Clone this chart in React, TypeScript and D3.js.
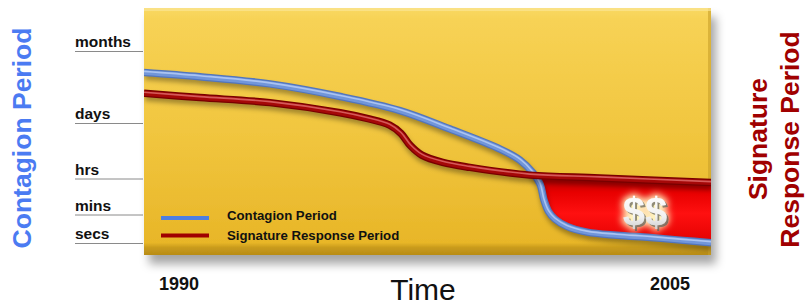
import React from 'react';
import * as d3 from 'd3';

// Levels: 0 = secs, 1 = mins, 2 = hrs, 3 = days, 4 = months
const levelLabels = ['secs', 'mins', 'hrs', 'days', 'months'];
const yearLabels = [1990, 2005];

// Contagion Period (blue)
const contagionYears = [1990, 1991.48, 1993.33, 1995.19, 1996.77, 1998.1, 1999.42, 1999.95, 2000.29, 2000.48, 2000.58, 2000.7, 2000.87, 2001.19, 2001.72, 2002.51, 2003.39, 2004.26, 2005];
const contagionLevels = [3.71, 3.65, 3.55, 3.375, 3.18, 2.9, 2.54, 2.34, 2.11, 1.85, 1.42, 1.1, 0.86, 0.6, 0.4, 0.29, 0.21, 0.11, 0.03];

// Signature Response Period (red)
const responseYears = [1990, 1991.48, 1993.33, 1995.19, 1995.9, 1996.5, 1996.8, 1997.05, 1997.35, 1997.9, 1998.62, 2000.21, 2002.06, 2005];
const responseLevels = [3.42, 3.36, 3.29, 3.15, 3.07, 2.97, 2.82, 2.6, 2.43, 2.3, 2.21, 2.07, 2.02, 1.9];

type Pt = { year: number; level: number };

export default function App() {
  const width = 805;
  const height = 305;

  const x = d3.scaleLinear().domain([1990, 2005]).range([144, 711]);
  const y = d3.scaleLinear().domain([0, 1, 2, 3, 4]).range([243.5, 215, 179, 123.5, 51.5]);

  const panelTop = 8;
  const panelBottom = 255;

  const blue: Pt[] = contagionYears.map((yr, i) => ({ year: yr, level: contagionLevels[i] }));
  const red: Pt[] = responseYears.map((yr, i) => ({ year: yr, level: responseLevels[i] }));

  const curve = d3.curveCatmullRom.alpha(0.5);
  const line = d3.line<Pt>().x(d => x(d.year)).y(d => y(d.level)).curve(curve);
  const belowRed = d3.area<Pt>().x(d => x(d.year)).y0(panelBottom).y1(d => y(d.level)).curve(curve);
  const aboveBlue = d3.area<Pt>().x(d => x(d.year)).y0(panelTop).y1(d => y(d.level)).curve(curve);

  const font = '"Liberation Sans", Arial, Helvetica, sans-serif';

  const tube = (d: string | null, base: string, mid: string, hi: string) => (
    <g>
      <path d={d || ''} fill="none" stroke="#000" strokeOpacity={0.35} strokeWidth={7} transform="translate(1,4)" filter="url(#blur)" />
      <path d={d || ''} fill="none" stroke={base} strokeWidth={7.5} />
      <path d={d || ''} fill="none" stroke={mid} strokeWidth={5} />
      <path d={d || ''} fill="none" stroke={hi} strokeWidth={1.6} transform="translate(0,-1)" />
    </g>
  );

  return (
    <div style={{ position: 'absolute', left: 0, top: 0 }}>
      <svg width={width} height={height} style={{ display: 'block' }}>
        <defs>
          <linearGradient id="panelGrad" x1="0" y1="0" x2="0" y2="1">
            <stop offset="0" stopColor="#f9d862" />
            <stop offset="0.05" stopColor="#f7d255" />
            <stop offset="0.5" stopColor="#f1c63f" />
            <stop offset="0.95" stopColor="#e8b628" />
            <stop offset="0.97" stopColor="#c99b1c" />
            <stop offset="1" stopColor="#b88c18" />
          </linearGradient>
          <linearGradient id="redGrad" gradientUnits="userSpaceOnUse" x1="0" y1="175" x2="0" y2="245">
            <stop offset="0" stopColor="#b00000" />
            <stop offset="0.25" stopColor="#e80000" />
            <stop offset="0.55" stopColor="#ff1010" />
            <stop offset="1" stopColor="#e00000" />
          </linearGradient>
          <linearGradient id="dollarGrad" x1="0" y1="0" x2="0" y2="1">
            <stop offset="0" stopColor="#ffffff" />
            <stop offset="0.6" stopColor="#f2f2f2" />
            <stop offset="1" stopColor="#c4c4c4" />
          </linearGradient>
          <filter id="panelShadow" x="-5%" y="-5%" width="115%" height="125%">
            <feDropShadow dx="5" dy="9" stdDeviation="5" floodColor="#000" floodOpacity="0.35" />
          </filter>
          <filter id="blur" x="-5%" y="-20%" width="110%" height="140%">
            <feGaussianBlur stdDeviation="2.5" />
          </filter>
          <filter id="glow" x="-30%" y="-30%" width="160%" height="160%">
            <feMorphology in="SourceAlpha" operator="dilate" radius="2" result="d" />
            <feGaussianBlur in="d" stdDeviation="3.5" result="b" />
            <feFlood floodColor="#fff6c0" floodOpacity="1" />
            <feComposite in2="b" operator="in" result="g" />
            <feOffset in="SourceAlpha" dx="1.5" dy="1.5" result="o" />
            <feFlood floodColor="#555" floodOpacity="0.8" />
            <feComposite in2="o" operator="in" result="s" />
            <feMerge>
              <feMergeNode in="g" />
              <feMergeNode in="s" />
              <feMergeNode in="SourceGraphic" />
            </feMerge>
          </filter>
          <clipPath id="underRed">
            <path d={belowRed(red) || ''} />
          </clipPath>
          <clipPath id="panelClip">
            <rect x={x(1990)} y={panelTop} width={x(2005) - x(1990)} height={panelBottom - panelTop} />
          </clipPath>
        </defs>

        {/* y axis ticks */}
        {levelLabels.map((lab, i) => (
          <g key={lab}>
            <line x1={75} x2={143} y1={y(i)} y2={y(i)} stroke="#8a8a8a" strokeWidth={1} />
            <text x={75} y={y(i) - 4.5} fontFamily={font} fontWeight="bold" fontSize={15.5} fill="#111">{lab}</text>
          </g>
        ))}

        {/* panel */}
        <rect x={x(1990)} y={panelTop} width={x(2005) - x(1990)} height={panelBottom - panelTop} fill="url(#panelGrad)" filter="url(#panelShadow)" />
        <rect x={x(2005) - 3} y={panelTop} width={3} height={panelBottom - panelTop} fill="#c9a02a" opacity={0.6} />
        <rect x={x(1990)} y={panelTop} width={x(2005) - x(1990)} height={3} fill="#fbe594" opacity={0.7} />

        <g clipPath="url(#panelClip)">
          {/* red gap region */}
          <path d={aboveBlue(blue) || ''} fill="url(#redGrad)" clipPath="url(#underRed)" />
          {tube(line(blue), '#5275bd', '#7196da', '#abc4f2')}
          {tube(line(red), '#780000', '#a50808', '#d45a5a')}
        </g>

        <text x={645} y={226} textAnchor="middle" fontFamily={font} fontWeight="bold" fontSize={40} fill="url(#dollarGrad)" filter="url(#glow)">$$</text>

        {/* legend */}
        <line x1={161} x2={209} y1={218} y2={218} stroke="#4d7fe0" strokeWidth={4} />
        <line x1={161} x2={209} y1={235.5} y2={235.5} stroke="#a00000" strokeWidth={4} />
        <text x={227} y={219.5} fontFamily={font} fontWeight="bold" fontSize={13.2} fill="#111">Contagion Period</text>
        <text x={227} y={239.5} fontFamily={font} fontWeight="bold" fontSize={13.2} fill="#111">Signature Response Period</text>

        {/* x labels */}
        <text x={x(yearLabels[0]) + 15} y={290} fontFamily={font} fontWeight="bold" fontSize={18} fill="#111">{yearLabels[0]}</text>
        <text x={x(yearLabels[1]) - 21} y={290} textAnchor="end" fontFamily={font} fontWeight="bold" fontSize={18} fill="#111">{yearLabels[1]}</text>
        <text x={423} y={300} textAnchor="middle" fontFamily={font} fontSize={30} fill="#111">Time</text>

        {/* axis titles */}
        <text transform="translate(31,138) rotate(-90)" textAnchor="middle" fontFamily={font} fontWeight="bold" fontSize={26.5} fill="#4b7bf2">Contagion Period</text>
        <text transform="translate(767,139) rotate(-90)" textAnchor="middle" fontFamily={font} fontWeight="bold" fontSize={26.5} fill="#a00000">Signature</text>
        <text transform="translate(799,139.5) rotate(-90)" textAnchor="middle" fontFamily={font} fontWeight="bold" fontSize={26.5} fill="#a00000">Response Period</text>
      </svg>
    </div>
  );
}
